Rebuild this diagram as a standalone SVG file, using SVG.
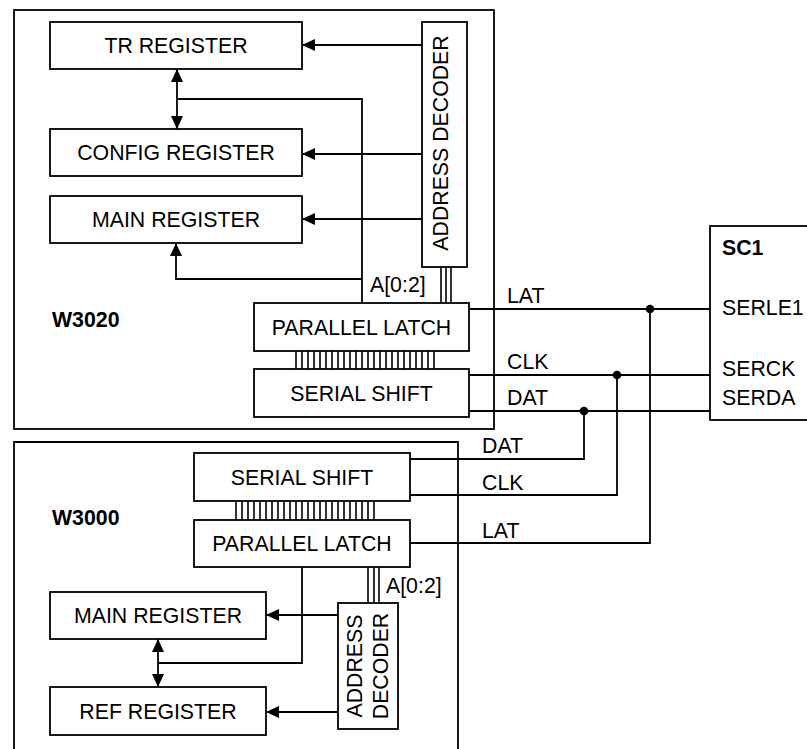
<svg xmlns="http://www.w3.org/2000/svg" width="807" height="749" viewBox="0 0 807 749">
<defs>
<style>
.box{fill:#fff;stroke:#000;stroke-width:1.8}
.frame{fill:none;stroke:#000;stroke-width:1.8}
.ln{fill:none;stroke:#000;stroke-width:1.8}
.bus{fill:none;stroke:#000;stroke-width:1.6}
.t{font-family:"Liberation Sans",Arial,sans-serif;font-size:21.3px;fill:#000}
.c{text-anchor:middle}
.b{font-weight:bold}
.dot{fill:#000}
</style>
<marker id="ah" viewBox="0 0 13 12" refX="13" refY="6" markerWidth="13" markerHeight="12" markerUnits="userSpaceOnUse" orient="auto-start-reverse">
<path d="M0,0 L13,6 L0,12 Z" fill="#000"/>
</marker>
</defs>
<rect width="807" height="749" fill="#fff"/>

<g id="w3020">
<rect class="frame" x="14" y="10" width="480" height="419"/>
<text class="t b" x="52" y="327">W3020</text>
</g>
<g id="w3000">
<path class="frame" d="M14,752 V442 H458 V752"/>
<text class="t b" x="52" y="525">W3000</text>
</g>

<g id="connectors">
<path class="ln" d="M422,45 H302" marker-end="url(#ah)"/>
<path class="ln" d="M422,154 H302" marker-end="url(#ah)"/>
<path class="ln" d="M422,219 H302" marker-end="url(#ah)"/>
<path class="ln" d="M177,69 V129" marker-start="url(#ah)" marker-end="url(#ah)"/>
<path class="ln" d="M177,99 H362 V303"/>
<path class="ln" d="M362,279 H176 V243" marker-end="url(#ah)"/>
<path class="bus" d="M441,267 V303 M446,267 V303 M451,267 V303"/>
<path class="bus" d="M296,351V369M302,351V369M308,351V369M314,351V369M320,351V369M326,351V369M332,351V369M338,351V369M344,351V369M350,351V369M356,351V369M362,351V369M368,351V369M374,351V369M380,351V369M386,351V369M392,351V369M398,351V369M404,351V369M410,351V369M416,351V369M422,351V369M428,351V369M434,351V369"/>
<path class="ln" d="M469,309 H710"/>
<path class="ln" d="M469,375 H710"/>
<path class="ln" d="M469,411 H710"/>
<path class="ln" d="M584,411 V459 H410"/>
<path class="ln" d="M617,375 V495 H410"/>
<path class="ln" d="M650,309 V543 H410"/>
<circle class="dot" cx="650" cy="309" r="4.3"/>
<circle class="dot" cx="617" cy="375" r="4.3"/>
<circle class="dot" cx="584" cy="411" r="4.3"/>
<path class="ln" d="M302,567 V663 H158"/>
<path class="ln" d="M158,639 V687" marker-start="url(#ah)" marker-end="url(#ah)"/>
<path class="bus" d="M368,567 V603 M374,567 V603 M379,567 V603"/>
<path class="bus" d="M236,501V520M242,501V520M248,501V520M254,501V520M260,501V520M266,501V520M272,501V520M278,501V520M284,501V520M290,501V520M296,501V520M302,501V520M308,501V520M314,501V520M320,501V520M326,501V520M332,501V520M338,501V520M344,501V520M350,501V520M356,501V520M362,501V520M368,501V520M374,501V520"/>
<path class="ln" d="M338,615 H266" marker-end="url(#ah)"/>
<path class="ln" d="M338,712 H266" marker-end="url(#ah)"/>
<text class="t" x="370" y="292">A[0:2]</text>
<text class="t" x="386" y="593">A[0:2]</text>
<text class="t" x="507" y="303">LAT</text>
<text class="t" x="507" y="369">CLK</text>
<text class="t" x="507" y="405">DAT</text>
<text class="t" x="482" y="453">DAT</text>
<text class="t" x="482" y="490">CLK</text>
<text class="t" x="482" y="538">LAT</text>
</g>

<g id="tr-register">
<rect class="box" x="50" y="22" width="252" height="47"/>
<text class="t c" x="176" y="53">TR REGISTER</text>
</g>
<g id="config-register">
<rect class="box" x="50" y="129" width="252" height="47"/>
<text class="t c" x="176" y="160">CONFIG REGISTER</text>
</g>
<g id="main-register-top">
<rect class="box" x="50" y="196" width="252" height="47"/>
<text class="t c" x="176" y="227">MAIN REGISTER</text>
</g>
<g id="address-decoder-top">
<rect class="box" x="422" y="22" width="45" height="245"/>
<text class="t c" transform="translate(448,143) rotate(-90)">ADDRESS DECODER</text>
</g>
<g id="parallel-latch-top">
<rect class="box" x="254" y="303" width="215" height="48"/>
<text class="t c" x="361.5" y="335">PARALLEL LATCH</text>
</g>
<g id="serial-shift-top">
<rect class="box" x="254" y="369" width="215" height="48"/>
<text class="t c" x="361.5" y="401">SERIAL SHIFT</text>
</g>

<g id="sc1">
<rect class="box" x="710" y="226" width="110" height="194"/>
<text class="t b" x="722" y="255">SC1</text>
<text class="t" x="722" y="315">SERLE1</text>
<text class="t" x="722" y="376">SERCK</text>
<text class="t" x="722" y="405">SERDA</text>
</g>

<g id="serial-shift-bottom">
<rect class="box" x="194" y="453" width="216" height="48"/>
<text class="t c" x="302" y="485">SERIAL SHIFT</text>
</g>
<g id="parallel-latch-bottom">
<rect class="box" x="194" y="520" width="216" height="47"/>
<text class="t c" x="302" y="551">PARALLEL LATCH</text>
</g>
<g id="main-register-bottom">
<rect class="box" x="50" y="592" width="216" height="47"/>
<text class="t c" x="158" y="623">MAIN REGISTER</text>
</g>
<g id="ref-register">
<rect class="box" x="50" y="687" width="216" height="48"/>
<text class="t c" x="158" y="719">REF REGISTER</text>
</g>
<g id="address-decoder-bottom">
<rect class="box" x="338" y="603" width="60" height="126"/>
<text class="t c" transform="translate(362,666) rotate(-90)">ADDRESS</text>
<text class="t c" transform="translate(388,666) rotate(-90)">DECODER</text>
</g>
</svg>
